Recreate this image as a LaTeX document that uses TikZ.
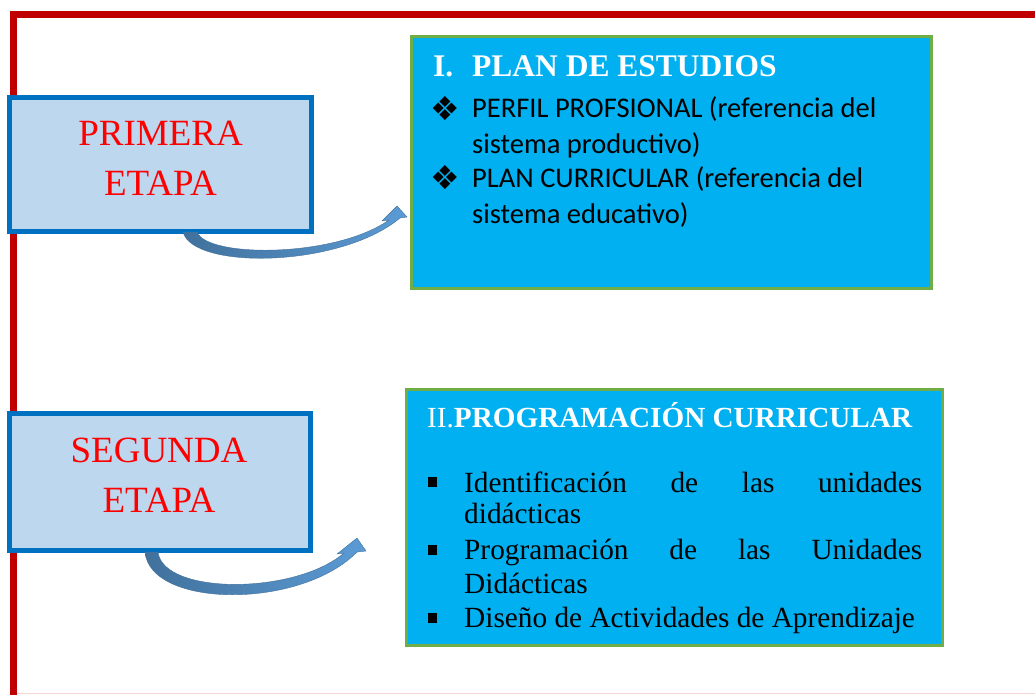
\documentclass[tikz,border=0pt]{standalone}
\usepackage{fontspec}
\setmainfont{Liberation Serif}
\newfontfamily\calib{Carlito}
\newfontfamily\djv{DejaVu Sans}
\definecolor{framered}{HTML}{C00000}
\definecolor{etapaborder}{HTML}{0070C0}
\definecolor{etapafill}{HTML}{BDD7EE}
\definecolor{planfill}{HTML}{00B0F0}
\definecolor{plangreen}{HTML}{70AD47}
\definecolor{arrowdark}{HTML}{41719C}
\definecolor{arrowlight}{HTML}{5B9BD5}
\definecolor{pinkline}{HTML}{F6D5D5}
\tikzset{
  etapabox/.style={draw=etapaborder, fill=etapafill, line width=5pt, inner sep=0pt, outer sep=0pt, anchor=north west},
  planbox/.style={draw=plangreen, fill=planfill, line width=3pt, inner sep=0pt, outer sep=0pt, anchor=north west},
  etapatext/.style={text=red, font=\fontsize{37}{44}\selectfont, anchor=base, inner sep=0pt},
  titletext/.style={text=white, anchor=base west, inner sep=0pt, font=\bfseries\fontsize{31.5}{36}\selectfont},
  titletexttwo/.style={text=white, anchor=base west, inner sep=0pt, font=\fontsize{29.2}{35}\selectfont},
  itemtext/.style={text=black, anchor=base west, inner sep=0pt, font=\calib\fontsize{28.5}{34}\selectfont},
  itemtexttwo/.style={text=black, anchor=base west, inner sep=0pt, font=\fontsize{29.3}{35}\selectfont},
  diabullet/.style={text=black, anchor=center, inner sep=0pt, font=\djv\fontsize{33}{36}\selectfont},
  sqbullet/.style={fill=black, draw=none, minimum size=9.5pt, inner sep=0pt, anchor=center},
  curvearrow/.style={left color=arrowdark, right color=arrowlight, draw=arrowdark, line width=0.4pt, line join=round},
}
\begin{document}
\begin{tikzpicture}[x=1pt,y=-1pt]
\useasboundingbox (0,0) rectangle (1035,695);
\fill[white] (0,0) rectangle (1035,695);
% frame
\draw[pinkline, line width=1pt] (17,693.5) -- (1035,693.5);
\draw[framered, line width=7pt, line join=miter] (13.5,695) -- (13.5,14.5) -- (1035,14.5);
% stage boxes
\node[etapabox, minimum width=302pt, minimum height=134pt] (primera) at (9.5,97.5) {};
\node[etapabox, minimum width=301pt, minimum height=137pt] (segunda) at (9.5,413.5) {};
\node[etapatext] (p1) at (160.5,146) {PRIMERA};
\node[etapatext] (p2) at (160.5,195) {ETAPA};
\node[etapatext] (s1) at (159,462) {SEGUNDA};
\node[etapatext] (s2) at (159,512) {ETAPA};
% content boxes
\node[planbox, minimum width=520pt, minimum height=252pt] (plan) at (411.5,36.5) {};
\node[planbox, minimum width=536pt, minimum height=256pt] (prog) at (406.5,389.5) {};
% box 1 text
\node[titletext] (t1a) at (433,77) {I.};
\node[titletext] (t1b) at (472,77) {PLAN DE ESTUDIOS};
\node[diabullet] (b1) at (445,109) {❖};
\node[diabullet] (b2) at (445,178) {❖};
\node[itemtext] (i1) at (472,118) {PERFIL PROFSIONAL (referencia del};
\node[itemtext] (i2) at (472,154) {sistema productivo)};
\node[itemtext] (i3) at (472,188) {PLAN CURRICULAR (referencia del};
\node[itemtext] (i4) at (472,223) {sistema educativo)};
% box 2 text
\node[titletexttwo] (t2) at (427,427) {II.\textbf{PROGRAMACIÓN CURRICULAR}};
\node[sqbullet] (q1) at (432.5,482) {};
\node[sqbullet] (q2) at (432.5,550) {};
\node[sqbullet] (q3) at (432.5,618) {};
\node[itemtexttwo] (j1) at (464,492) {\makebox[458pt][s]{Identificación de las unidades}};
\node[itemtexttwo] (j2) at (464,523) {didácticas};
\node[itemtexttwo] (j3) at (464,559) {\makebox[458pt][s]{Programación de las Unidades}};
\node[itemtexttwo] (j4) at (464,593) {Didácticas};
\node[itemtexttwo] (j5) at (464,627) {Diseño de Actividades de Aprendizaje};
% curved arrows
\path[curvearrow] (183,232) .. controls (193,270) and (340,268) .. (400,218)
  -- (407,217) -- (397,206) -- (382,221) -- (389,220)
  .. controls (335,258) and (207,258) .. (197,232) -- cycle;
\path[curvearrow] (145,552) .. controls (150,608) and (300,610) .. (357,552)
  -- (366,551) -- (357,538) -- (337,554) -- (344,553)
  .. controls (295,595) and (163,595) .. (158,552) -- cycle;
\end{tikzpicture}
\end{document}
